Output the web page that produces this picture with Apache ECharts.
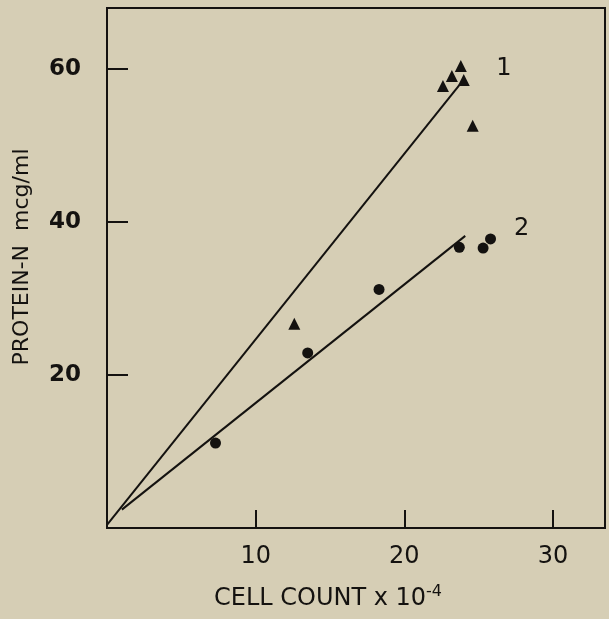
<!DOCTYPE html>
<html>
<head>
<meta charset="utf-8">
<script src="https://cdn.jsdelivr.net/npm/echarts@6/dist/echarts.min.js"></script>
<style>
html,body{margin:0;padding:0;background:#d6ceb5;}
#chart{width:609px;height:619px;}
</style>
</head>
<body>
<div id="chart"></div>
<script>
// Series 1 (triangles)
var series1X = [23.8, 23.2, 24.0, 22.6, 24.6, 12.6];
var series1Y = [60.4, 59.1, 58.6, 57.8, 52.6, 26.7];
// Series 2 (circles)
var series2X = [7.3, 13.5, 18.3, 23.7, 25.3, 25.8];
var series2Y = [11.1, 22.9, 31.2, 36.7, 36.6, 37.8];
// Fitted lines (endpoints)
var line1X = [0.0, 23.7];
var line1Y = [0.4, 57.9];
var line2X = [1.0, 24.1];
var line2Y = [2.4, 38.2];
// Curve labels
var curveLabels = ['1', '2'];
var curveLabelX = [26.7, 27.9];
var curveLabelY = [60.1, 39.1];
// Axis ticks
var xTicks = [10, 20, 30];
var yTicks = [20, 40, 60];

function pairs(xs, ys) { return xs.map(function (x, i) { return [x, ys[i]]; }); }

var ink = '#141210';
var fontFam = '"DejaVu Sans", "Liberation Sans", sans-serif';

var chart = echarts.init(document.getElementById('chart'));
chart.setOption({
  backgroundColor: '#d6ceb5',
  animation: false,
  grid: {
    left: 107, right: 4, top: 8, bottom: 91,
    show: true, borderColor: ink, borderWidth: 2, backgroundColor: 'transparent'
  },
  xAxis: {
    type: 'value', min: 0, max: 33.5,
    axisLine: { show: true, lineStyle: { color: ink, width: 2 } },
    axisTick: { show: true, inside: true, length: 18, customValues: xTicks, lineStyle: { color: ink, width: 2 } },
    axisLabel: { customValues: xTicks, color: ink, fontSize: 24, fontFamily: fontFam, margin: 17 },
    splitLine: { show: false },
    name: '{a|CELL COUNT x 10}{b|-4}',
    nameLocation: 'middle',
    nameGap: 56,
    nameTextStyle: {
      padding: [0, 56, 0, 0],
      rich: {
        a: { fontSize: 24, color: ink, fontFamily: fontFam },
        b: { fontSize: 16, color: ink, fontFamily: fontFam, verticalAlign: 'top', padding: [0, 0, 14, 0] }
      }
    }
  },
  yAxis: {
    type: 'value', min: 0, max: 68,
    axisLine: { show: true, lineStyle: { color: ink, width: 2 } },
    axisTick: { show: true, inside: true, length: 21, customValues: yTicks, lineStyle: { color: ink, width: 2 } },
    axisLabel: { customValues: yTicks, color: ink, fontSize: 23, fontWeight: 'bold', fontFamily: fontFam, margin: 26 },
    splitLine: { show: false },
    name: 'PROTEIN-N  mcg/ml',
    nameLocation: 'middle',
    nameGap: 74,
    nameTextStyle: { color: ink, fontSize: 22, fontFamily: fontFam, padding: [0, 0, 0, 22] }
  },
  series: [
    {
      type: 'line', data: pairs(line1X, line1Y), symbol: 'none',
      lineStyle: { color: ink, width: 2 }, z: 2
    },
    {
      type: 'line', data: pairs(line2X, line2Y), symbol: 'none',
      lineStyle: { color: ink, width: 2 }, z: 2
    },
    {
      type: 'scatter', data: pairs(series1X, series1Y), symbol: 'triangle', symbolSize: 12,
      itemStyle: { color: ink, opacity: 1 }, z: 3
    },
    {
      type: 'scatter', data: pairs(series2X, series2Y), symbol: 'circle', symbolSize: 11,
      itemStyle: { color: ink, opacity: 1 }, z: 3
    },
    {
      type: 'scatter', symbolSize: 0,
      itemStyle: { color: ink, opacity: 1 },
      data: curveLabels.map(function (t, i) { return { value: [curveLabelX[i], curveLabelY[i]], name: t }; }),
      label: { show: true, position: 'inside', formatter: '{b}', color: ink, opacity: 1, fontSize: 24, fontFamily: fontFam }
    }
  ]
});
</script>
</body>
</html>
